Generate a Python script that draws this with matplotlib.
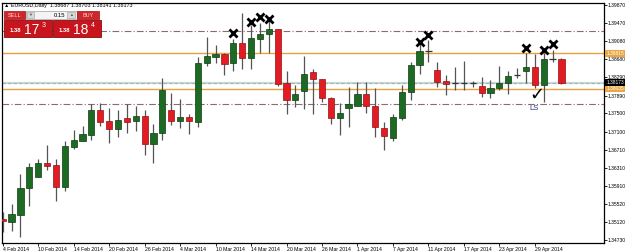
import matplotlib
matplotlib.use("Agg")
import matplotlib.pyplot as plt
import matplotlib.transforms as mtrans
from matplotlib.patches import Rectangle
import pandas as pd
import numpy as np

plt.rcParams['font.family'] = ['Liberation Sans', 'DejaVu Sans']

# EURUSD daily bars, 4 Feb 2014 .. 2 May 2014
dates = pd.bdate_range('2014-02-04', '2014-05-02')
opens = [1.35200, 1.35137, 1.35290, 1.35867, 1.36120, 1.36426, 1.36369, 1.35902, 1.36775, 1.36906,
         1.37037, 1.37577, 1.37330, 1.37168, 1.37395, 1.37330, 1.37439, 1.36841, 1.37081, 1.37577,
         1.37330, 1.37417, 1.37325, 1.38610, 1.38728, 1.38800, 1.38597, 1.39033, 1.38719, 1.39127,
         1.39230, 1.39339, 1.38160, 1.37795, 1.37998, 1.38400, 1.38254, 1.37845, 1.37408, 1.37614,
         1.37671, 1.37920, 1.37664, 1.37184, 1.36959, 1.37395, 1.37963, 1.38559, 1.38872, 1.38450,
         1.38210, 1.38166, 1.38165, 1.38160, 1.38107, 1.37941, 1.38051, 1.38173, 1.38334, 1.38435,
         1.38509, 1.38123, 1.38684, 1.38687]
highs = [1.35350, 1.35524, 1.36172, 1.36413, 1.36500, 1.36812, 1.36513, 1.36900, 1.37140, 1.37227,
         1.37708, 1.37736, 1.37614, 1.37577, 1.37708, 1.37664, 1.37577, 1.37271, 1.38269, 1.37941,
         1.37810, 1.37489, 1.38728, 1.39178, 1.38996, 1.38821, 1.39121, 1.39689, 1.39433, 1.39470,
         1.39542, 1.39350, 1.38435, 1.38123, 1.38756, 1.38472, 1.38260, 1.37850, 1.37736, 1.38086,
         1.38195, 1.38195, 1.38051, 1.37321, 1.37483, 1.38123, 1.38632, 1.39033, 1.39105, 1.38632,
         1.38341, 1.38522, 1.38647, 1.38217, 1.38291, 1.38232, 1.38544, 1.38435, 1.38500, 1.38815,
         1.38800, 1.38815, 1.38887, 1.38703]
lows = [1.34910, 1.34941, 1.34796, 1.35487, 1.36110, 1.36266, 1.35583, 1.35814, 1.36718, 1.36890,
        1.36921, 1.37234, 1.36849, 1.36994, 1.37068, 1.37125, 1.36594, 1.36413, 1.36921, 1.37242,
        1.37190, 1.37052, 1.37205, 1.38538, 1.38610, 1.38341, 1.38435, 1.38466, 1.38466, 1.38815,
        1.38815, 1.38101, 1.37483, 1.37649, 1.37592, 1.37489, 1.37745, 1.37271, 1.37031, 1.37212,
        1.37660, 1.37518, 1.36980, 1.36703, 1.36900, 1.37358, 1.37795, 1.38363, 1.38632, 1.38086,
        1.37904, 1.38013, 1.38013, 1.38086, 1.37867, 1.37845, 1.38013, 1.37926, 1.38269, 1.38160,
        1.38051, 1.37758, 1.38632, 1.38141]
closes = [1.35150, 1.35299, 1.35873, 1.36332, 1.36413, 1.36347, 1.35902, 1.36784, 1.36921, 1.37052,
          1.37577, 1.37321, 1.37168, 1.37358, 1.37321, 1.37446, 1.36841, 1.37081, 1.38013, 1.37330,
          1.37417, 1.37330, 1.38603, 1.38756, 1.38800, 1.38588, 1.39046, 1.38719, 1.39156, 1.39230,
          1.39339, 1.38144, 1.37795, 1.37920, 1.38363, 1.38254, 1.37845, 1.37408, 1.37505, 1.37708,
          1.37920, 1.37664, 1.37199, 1.37015, 1.37417, 1.37963, 1.38559, 1.38872, 1.38866, 1.38195,
          1.38151, 1.38172, 1.38160, 1.38165, 1.37941, 1.38051, 1.38173, 1.38319, 1.38340, 1.38509,
          1.38123, 1.38684, 1.38690, 1.38173]

yticks = [1.39870, 1.39470, 1.39080, 1.38680, 1.38290, 1.37890, 1.37500,
          1.37100, 1.36710, 1.36310, 1.35910, 1.35520, 1.35120, 1.34730]

# drawn levels
resist = 1.38815
support = 1.38035
dd_upper = 1.39295
dd_lower = 1.37710
bid = 1.38173

# hand drawn marks (bar index, price)
cross_x = [26, 28, 29, 30, 47, 48, 59, 61, 62]
cross_y = [1.39252, 1.39505, 1.39601, 1.39564, 1.39055, 1.39215, 1.38924, 1.38887, 1.39011]

fig = plt.figure(figsize=(6.25, 2.52), dpi=100)
ax = fig.add_axes([2/625, 9/252, 602/625, 240/252])

x = np.arange(len(opens))
o = np.array(opens); h = np.array(highs); l = np.array(lows); c = np.array(closes)
body_lo = np.minimum(o, c)
body_h = np.abs(c - o)
doji = body_h < 0.0001
up = (c > o) & ~doji
dn = (c < o) & ~doji

ax.vlines(x, l, h, color='#555555', lw=0.9, zorder=3)
ax.bar(x[up], body_h[up], bottom=body_lo[up], width=0.7, color='#1d6b22',
       edgecolor='#0e3a12', lw=0.5, zorder=4)
ax.bar(x[dn], body_h[dn], bottom=body_lo[dn], width=0.7, color='#e31b23',
       edgecolor='#8a1414', lw=0.5, zorder=4)
ax.hlines(c[doji], x[doji] - 0.35, x[doji] + 0.35, color='#333333', lw=0.9, zorder=4)

# horizontal levels
ax.axhline(resist, color='#e9a23b', lw=1.0, zorder=2)
ax.axhline(support, color='#e9a23b', lw=1.0, zorder=2)
for lev in (dd_upper, dd_lower):
    ax.axhline(lev, color='#8b6a78', lw=0.8, dashes=(6, 2, 1, 2), zorder=2)
ax.axhline(bid, color='#cfd6d6', lw=1.6, zorder=1)
ax.axhline(bid + 0.00003, color='#9bbab2', lw=0.8, dashes=(3, 2), zorder=1)

# crosses, tick and label
ax.plot(cross_x, cross_y, ls='none', marker='x', ms=6, mew=2.0, color='black', zorder=6)
ax.text(60.2, 1.37904, '\u2713', fontsize=13, family='DejaVu Sans', ha='center',
        va='center', color='black', zorder=6)
ax.text(59.9, 1.37614, 'LS', fontsize=5.5, ha='center', va='center', color='#24307a', zorder=6)

ax.set_xlim(-0.08, 67.8)
ax.set_ylim(1.34672, 1.39913)

tick_idx = list(range(0, len(dates), 4))
tick_labels = [f"{d.day} {d:%b %Y}" for d in dates[tick_idx]]
ax.set_xticks(tick_idx)
ax.set_xticklabels(tick_labels, fontsize=3.7, ha='left')
off = mtrans.ScaledTranslation(1.5/100, 0, fig.dpi_scale_trans)
for lab in ax.get_xticklabels():
    lab.set_transform(lab.get_transform() + off)
ax.tick_params(axis='x', length=2.5, width=0.6, pad=0.5, colors='black')

ax.yaxis.tick_right()
ax.set_yticks(yticks)
ax.set_yticklabels([f"{v:.5f}" for v in yticks], fontsize=3.6)
ax.tick_params(axis='y', length=2, width=0.6, pad=0.8)

for sp in ax.spines.values():
    sp.set_linewidth(0.9)
    sp.set_color('black')

# price boxes on the right scale
tr = mtrans.blended_transform_factory(ax.transAxes, ax.transData)
for lev, fc in ((resist, '#eaa640'), (support, '#eaa640'), (bid, 'black')):
    ax.text(1.004, lev, f"{lev:.5f}", transform=tr, fontsize=3.5, color='white',
            va='center', ha='left', clip_on=False, zorder=10,
            bbox=dict(boxstyle='square,pad=0.2', fc=fc, ec='none'))

# one-click trading panel overlay (pixel coordinates)
ov = fig.add_axes([0, 0, 1, 1], zorder=20)
ov.set_xlim(0, 625)
ov.set_ylim(252, 0)
ov.axis('off')
ov.patch.set_alpha(0)

ov.text(4, 5.5, '\u25b2 EURUSD,Daily  1.38687 1.38703 1.38141 1.38173', fontsize=3.9,
        va='center', ha='left', color='black')

ov.add_patch(Rectangle((4, 11), 21, 8, fc='#d0262b', ec='#9a1010', lw=0.5))
ov.text(14.5, 15.2, 'SELL', fontsize=4.0, color='#ffd8d8', ha='center', va='center')
ov.add_patch(Rectangle((26, 11), 51, 8, fc='#f4f4f4', ec='#a0a0a0', lw=0.5))
ov.add_patch(Rectangle((27, 12), 6.5, 6, fc='#d8d8d8', ec='#a0a0a0', lw=0.4))
ov.add_patch(Rectangle((67, 12), 7.5, 6, fc='#d8d8d8', ec='#a0a0a0', lw=0.4))
ov.text(30.2, 15.2, '\u25bc', fontsize=2.8, ha='center', va='center', color='#555555')
ov.text(70.7, 15.2, '\u25b2', fontsize=2.8, ha='center', va='center', color='#555555')
ov.text(59, 15.2, '0.15', fontsize=4.2, ha='center', va='center', color='black')
ov.add_patch(Rectangle((77, 11), 22, 8, fc='#d0262b', ec='#9a1010', lw=0.5))
ov.text(88, 15.2, 'BUY', fontsize=4.0, color='#ffd8d8', ha='center', va='center')

for x0, big, sup in ((4, '17', '3'), (53, '18', '4')):
    ov.add_patch(Rectangle((x0, 20), 47.5, 17, fc='#c8141c', ec='#8a0c10', lw=0.6))
    ov.text(x0 + 6, 31, '1.38', fontsize=4.2, color='white', ha='left', va='center',
            fontweight='bold')
    ov.text(x0 + 20, 30.5, big, fontsize=10, color='white', ha='left', va='center')
    ov.text(x0 + 38, 25.5, sup, fontsize=5, color='white', ha='left', va='center')

fig.savefig('out.png', dpi=100)
